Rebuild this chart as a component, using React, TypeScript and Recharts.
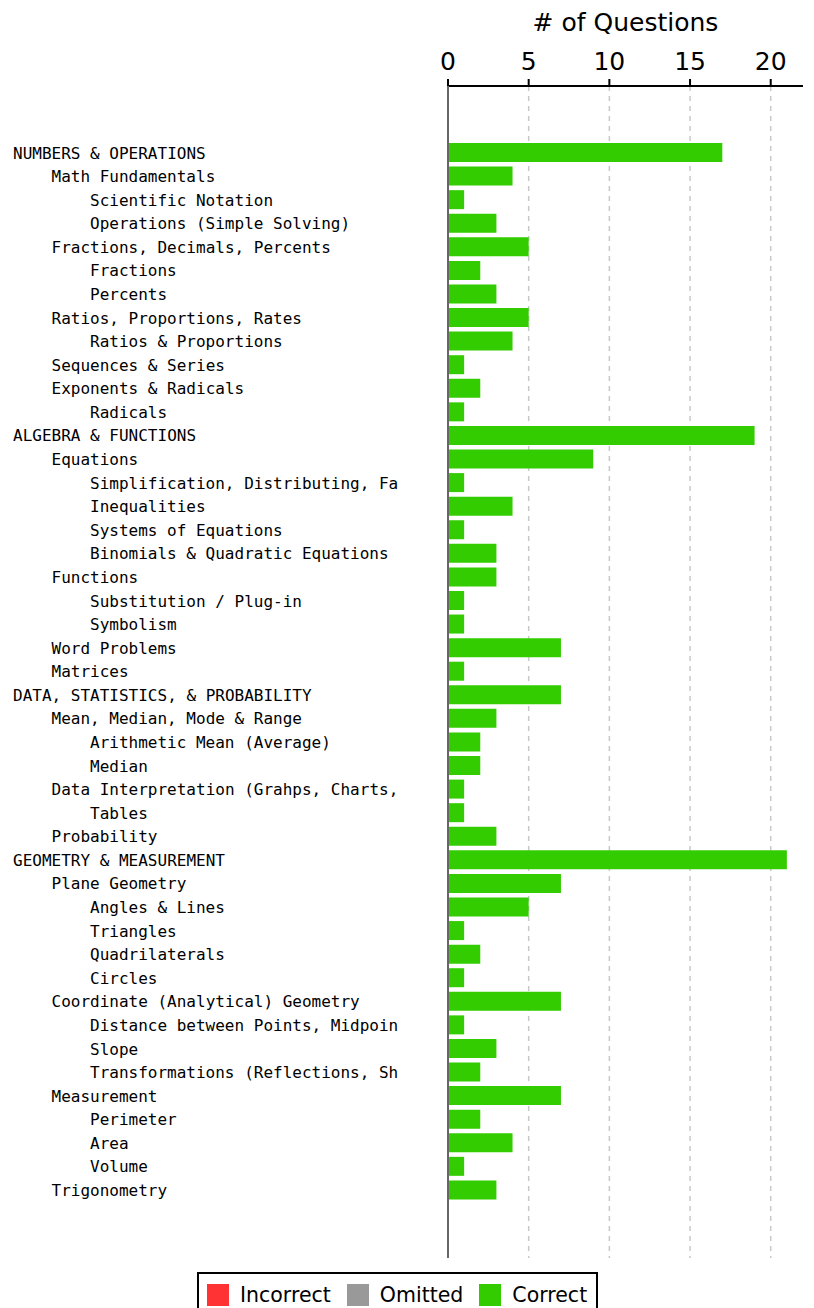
import React from 'react';
import { BarChart, Bar, XAxis, YAxis, CartesianGrid, Legend, ReferenceLine } from 'recharts';

const categories = [
  'NUMBERS & OPERATIONS',
  'Math Fundamentals',
  'Scientific Notation',
  'Operations (Simple Solving)',
  'Fractions, Decimals, Percents',
  'Fractions',
  'Percents',
  'Ratios, Proportions, Rates',
  'Ratios & Proportions',
  'Sequences & Series',
  'Exponents & Radicals',
  'Radicals',
  'ALGEBRA & FUNCTIONS',
  'Equations',
  'Simplification, Distributing, Fa',
  'Inequalities',
  'Systems of Equations',
  'Binomials & Quadratic Equations',
  'Functions',
  'Substitution / Plug-in',
  'Symbolism',
  'Word Problems',
  'Matrices',
  'DATA, STATISTICS, & PROBABILITY',
  'Mean, Median, Mode & Range',
  'Arithmetic Mean (Average)',
  'Median',
  'Data Interpretation (Grahps, Charts,',
  'Tables',
  'Probability',
  'GEOMETRY & MEASUREMENT',
  'Plane Geometry',
  'Angles & Lines',
  'Triangles',
  'Quadrilaterals',
  'Circles',
  'Coordinate (Analytical) Geometry',
  'Distance between Points, Midpoin',
  'Slope',
  'Transformations (Reflections, Sh',
  'Measurement',
  'Perimeter',
  'Area',
  'Volume',
  'Trigonometry',
];

const levels = [
  0, 1, 2, 2, 1, 2, 2, 1, 2, 1, 1, 2,
  0, 1, 2, 2, 2, 2, 1, 2, 2, 1, 1,
  0, 1, 2, 2, 1, 2, 1,
  0, 1, 2, 2, 2, 2, 1, 2, 2, 2, 1, 2, 2, 2, 1,
];

const correct = [
  17, 4, 1, 3, 5, 2, 3, 5, 4, 1, 2, 1,
  19, 9, 1, 4, 1, 3, 3, 1, 1, 7, 1,
  7, 3, 2, 2, 1, 1, 3,
  21, 7, 5, 1, 2, 1, 7, 1, 3, 2, 7, 2, 4, 1, 3,
];

const incorrect = categories.map(() => 0);
const omitted = categories.map(() => 0);

const xTicks = [0, 5, 10, 15, 20];
const gridValues = [5, 10, 15, 20];

const seriesKeys = ['incorrect', 'omitted', 'correct'];
const seriesNames: Record<string, string> = { incorrect: 'Incorrect', omitted: 'Omitted', correct: 'Correct' };
const colors: Record<string, string> = { incorrect: '#FF3333', omitted: '#999999', correct: '#33CC00' };

const data = categories.map((name, i) => ({
  name,
  incorrect: incorrect[i],
  omitted: omitted[i],
  correct: correct[i],
}));

const YTick = (props: any) => {
  const { y, payload, index } = props;
  const lvl = levels[index] ?? 0;
  return (
    <text
      x={5 + lvl * 38.5}
      y={y}
      dy="0.36em"
      textAnchor="start"
      fontFamily="'DejaVu Sans Mono', monospace"
      fontSize={16}
      fill="#000"
    >
      {payload.value}
    </text>
  );
};

const LegendContent = () => {
  return (
    <div style={{ paddingTop: 14 }}>
      <div
        style={{
          display: 'inline-flex',
          alignItems: 'center',
          border: '2px solid #000',
          height: 42,
          paddingLeft: 8,
          paddingRight: 9,
          background: '#fff',
          fontFamily: "'DejaVu Sans', sans-serif",
          fontSize: 20.5,
          color: '#000',
        }}
      >
        {seriesKeys.map((k, i) => (
          <React.Fragment key={k}>
            <span style={{ display: 'inline-block', width: 22, height: 22, background: colors[k], marginRight: 11 }} />
            <span style={{ marginRight: i === seriesKeys.length - 1 ? 0 : 16, lineHeight: '22px' }}>{seriesNames[k]}</span>
          </React.Fragment>
        ))}
      </div>
    </div>
  );
};

export default function App() {
  return (
    <BarChart
      width={806}
      height={1310}
      data={data}
      layout="vertical"
      margin={{ top: 0, right: 11, bottom: 0, left: 0 }}
      barSize={19}
    >
      <CartesianGrid
        horizontal={false}
        vertical={true}
        verticalValues={gridValues}
        stroke="#c8c8c8"
        strokeWidth={1.5}
        strokeDasharray="5 5"
      />
      <XAxis
        type="number"
        orientation="top"
        domain={[0, 22]}
        ticks={xTicks}
        allowDataOverflow
        height={78}
        tickSize={7}
        tickMargin={9}
        axisLine={{ stroke: '#000', strokeWidth: 2 }}
        tickLine={{ stroke: '#000', strokeWidth: 2 }}
        tick={{ fill: '#000', fontSize: 25, fontFamily: "'DejaVu Sans', sans-serif" }}
        label={{
          value: '# of Questions',
          position: 'insideTop',
          offset: 5,
          style: { fill: '#000', fontSize: 25, fontFamily: "'DejaVu Sans', sans-serif" },
        }}
      />
      <YAxis
        type="category"
        dataKey="name"
        width={440}
        interval={0}
        padding={{ top: 55, bottom: 56 }}
        axisLine={{ stroke: '#666', strokeWidth: 2 }}
        tickLine={false}
        tick={<YTick />}
      />
      <ReferenceLine x={0} stroke="#333" strokeWidth={2} strokeDasharray="5 5" />
      <Bar dataKey="incorrect" name={seriesNames.incorrect} stackId="a" fill={colors.incorrect} isAnimationActive={false} />
      <Bar dataKey="omitted" name={seriesNames.omitted} stackId="a" fill={colors.omitted} isAnimationActive={false} />
      <Bar dataKey="correct" name={seriesNames.correct} stackId="a" fill={colors.correct} isAnimationActive={false} />
      <Legend
        verticalAlign="bottom"
        align="left"
        content={<LegendContent />}
        wrapperStyle={{ left: 189, width: 'auto' }}
      />
    </BarChart>
  );
}
